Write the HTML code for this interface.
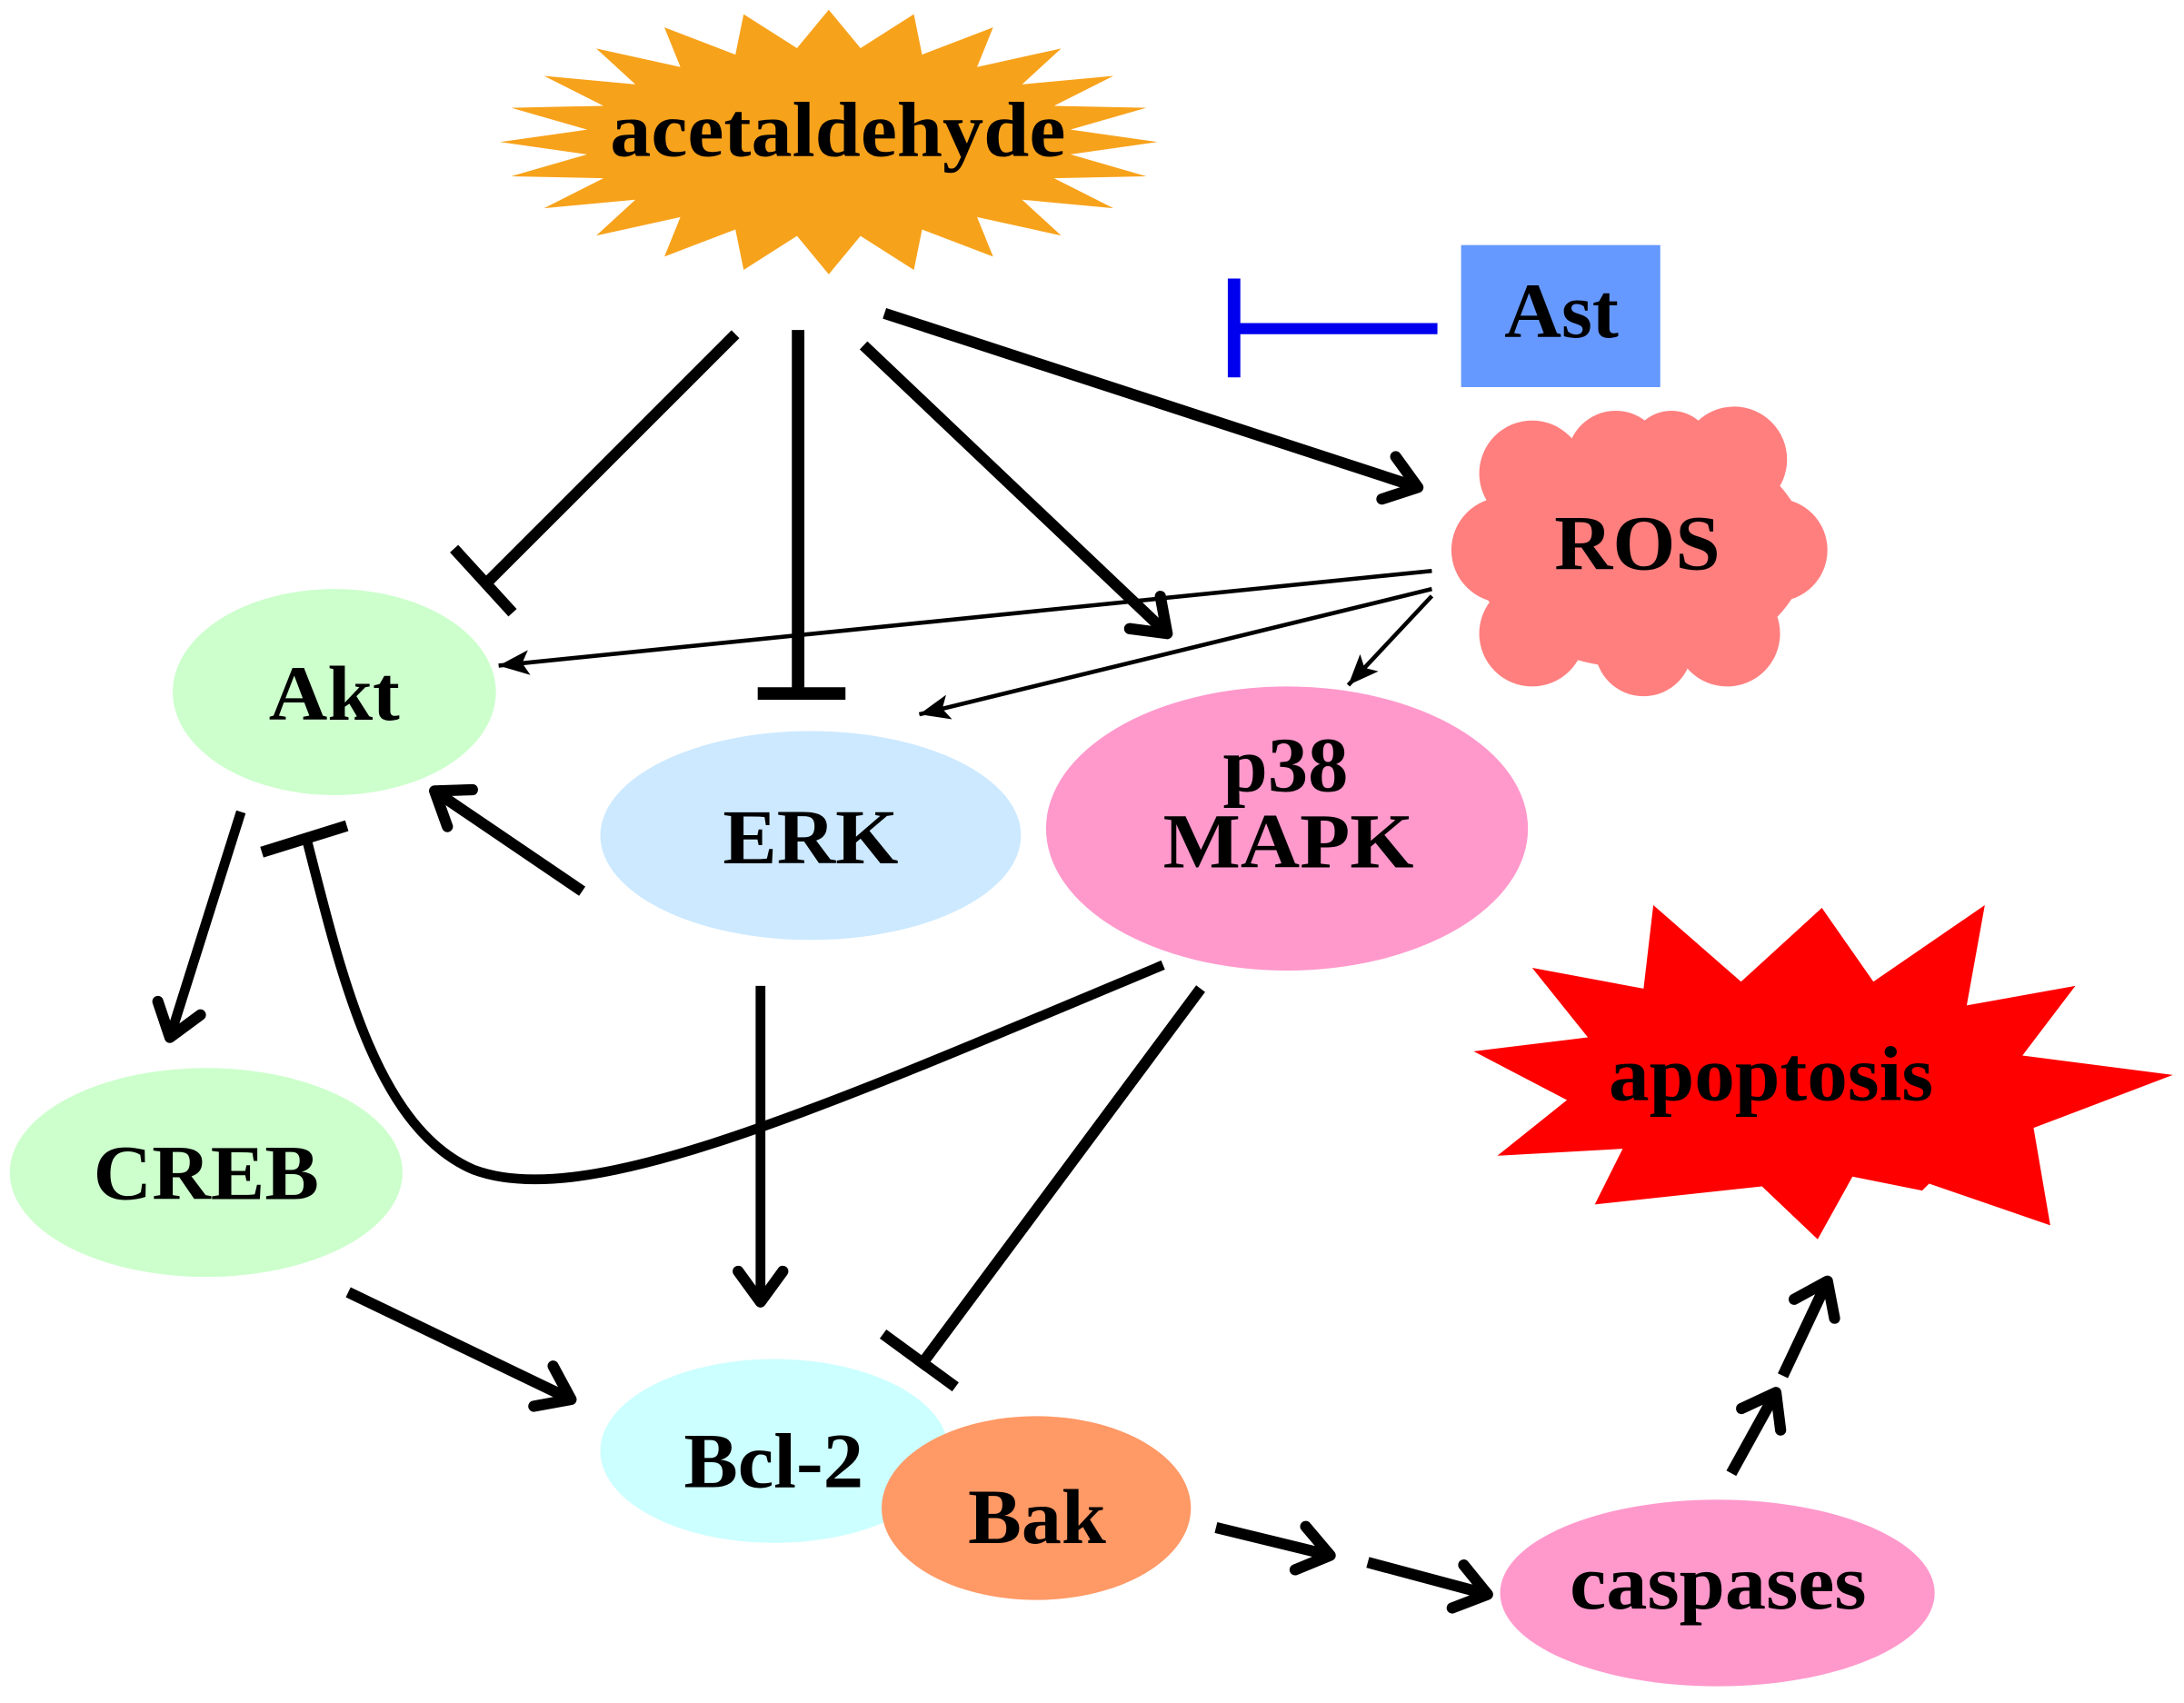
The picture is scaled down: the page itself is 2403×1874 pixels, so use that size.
<!DOCTYPE html>
<html><head><meta charset="utf-8"><style>html,body{margin:0;padding:0;background:#fff}svg{display:block}</style></head>
<body>
<svg width="2403" height="1874" viewBox="0 0 1568 1223" preserveAspectRatio="none" xmlns="http://www.w3.org/2000/svg">
<defs>
<marker id="ah" markerUnits="userSpaceOnUse" markerWidth="60" markerHeight="60" refX="40" refY="20" orient="auto" viewBox="0 0 60 40">
<path d="M18,4 L40,20 L18,36" fill="none" stroke="#000" stroke-width="8" stroke-linecap="round" stroke-linejoin="round"/>
</marker>
<marker id="ahs" markerUnits="userSpaceOnUse" markerWidth="30" markerHeight="30" refX="22" refY="10" orient="auto" viewBox="0 0 30 20">
<path d="M0,1 L22,10 L0,19 L5,10 Z" fill="#000"/>
</marker>
</defs>
<rect width="1568" height="1223" fill="#fff"/>
<!-- acetaldehyde star -->
<polygon id="star1" fill="#F7A21B" points=""/>
<script>
(function(){var p=[],n=24,cx=595,cy=102;for(var i=0;i<2*n;i++){var a=Math.PI*i/n-Math.PI/2;var o=i%2==0;var rx=o?236:175,ry=o?95:68;p.push((cx+rx*Math.cos(a)).toFixed(1)+","+(cy+ry*Math.sin(a)).toFixed(1));}document.getElementById("star1").setAttribute("points",p.join(" "));})();
</script>
<!-- apoptosis star -->
<polygon fill="#FF0000" points="1058,755 1140,745 1100,695 1180,710 1187,650 1250,705 1308,652 1345,705 1425,650 1412,722 1490,708 1452,758 1560,772 1460,810 1472,880 1385,850 1380,855 1330,845 1305,890 1265,852 1145,865 1165,825 1075,830 1125,790"/>
<!-- Ast -->
<rect x="1049" y="176" width="143" height="102" fill="#6699FF"/>
<line x1="1032" y1="236" x2="886" y2="236" stroke="#0000EE" stroke-width="8"/>
<line x1="886" y1="200" x2="886" y2="271" stroke="#0000EE" stroke-width="9"/>
<!-- ROS cloud -->
<g fill="#FF7F7F">
<ellipse cx="1177" cy="395" rx="120" ry="85"/>
<circle cx="1100" cy="340" r="38"/><circle cx="1160" cy="330" r="35"/><circle cx="1245" cy="330" r="38"/>
<circle cx="1275" cy="395" r="37"/><circle cx="1240" cy="455" r="38"/><circle cx="1180" cy="465" r="35"/>
<circle cx="1100" cy="455" r="38"/><circle cx="1080" cy="395" r="38"/><circle cx="1200" cy="325" r="30"/>
</g>
<!-- nodes -->
<ellipse cx="240" cy="497" rx="116" ry="74" fill="#CCFFCC"/>
<ellipse cx="582" cy="600" rx="151" ry="75" fill="#CCE9FF"/>
<ellipse cx="924" cy="595" rx="173" ry="102" fill="#FF99CC"/>
<ellipse cx="148" cy="842" rx="141" ry="75" fill="#CCFFCC"/>
<ellipse cx="556" cy="1042" rx="125" ry="66" fill="#CCFFFF"/>
<ellipse cx="744" cy="1083" rx="111" ry="66" fill="#FF9966"/>
<ellipse cx="1233" cy="1144" rx="156" ry="67" fill="#FF99CC"/>
<!-- connectors -->
<g stroke="#000" fill="none" stroke-linecap="butt">
<line x1="528" y1="240" x2="350" y2="418" stroke-width="8"/>
<line x1="326" y1="394" x2="368" y2="440" stroke-width="8"/>
<line x1="573" y1="237" x2="573" y2="497" stroke-width="9"/>
<line x1="544" y1="498" x2="607" y2="498" stroke-width="9"/>
<line x1="620" y1="248" x2="838" y2="455" stroke-width="8" marker-end="url(#ah)"/>
<line x1="635" y1="225" x2="1018" y2="350" stroke-width="8" marker-end="url(#ah)"/>
<line x1="1028" y1="410" x2="358" y2="478" stroke-width="3" marker-end="url(#ahs)"/>
<line x1="1028" y1="423" x2="660" y2="513" stroke-width="3" marker-end="url(#ahs)"/>
<line x1="1028" y1="428" x2="968" y2="492" stroke-width="3" marker-end="url(#ahs)"/>
<line x1="418" y1="640" x2="312" y2="568" stroke-width="8" marker-end="url(#ah)"/>
<line x1="173" y1="583" x2="122" y2="745" stroke-width="7" marker-end="url(#ah)"/>
<path d="M835,693 C580,800 420,870 340,840 C270,810 245,700 220,602" stroke-width="7"/>
<line x1="188" y1="612" x2="249" y2="593" stroke-width="8"/>
<line x1="546" y1="708" x2="546" y2="935" stroke-width="7" marker-end="url(#ah)"/>
<line x1="862" y1="710" x2="660" y2="982" stroke-width="8"/>
<line x1="634" y1="958" x2="686" y2="996" stroke-width="8"/>
<line x1="250" y1="928" x2="410" y2="1005" stroke-width="8" marker-end="url(#ah)"/>
<line x1="873" y1="1097" x2="955" y2="1117" stroke-width="8" marker-end="url(#ah)"/>
<line x1="982" y1="1122" x2="1068" y2="1145" stroke-width="8" marker-end="url(#ah)"/>
<line x1="1243" y1="1058" x2="1275" y2="1000" stroke-width="8" marker-end="url(#ah)"/>
<line x1="1280" y1="988" x2="1312" y2="920" stroke-width="8" marker-end="url(#ah)"/>
</g>
<!-- labels -->
<g font-family="'Liberation Serif', serif" font-weight="bold" font-size="56" fill="#000" text-anchor="start">
<text x="438" y="112" textLength="327" lengthAdjust="spacingAndGlyphs">acetaldehyde</text>
<text x="1080" y="242" textLength="82" lengthAdjust="spacingAndGlyphs">Ast</text>
<text x="1116" y="409" textLength="119" lengthAdjust="spacingAndGlyphs">ROS</text>
<text x="193" y="517" textLength="94" lengthAdjust="spacingAndGlyphs">Akt</text>
<text x="519" y="620" textLength="126" lengthAdjust="spacingAndGlyphs">ERK</text>
<text x="878" y="568" textLength="90" lengthAdjust="spacingAndGlyphs">p38</text>
<text x="835" y="623" textLength="180" lengthAdjust="spacingAndGlyphs">MAPK</text>
<text x="1155" y="790" textLength="233" lengthAdjust="spacingAndGlyphs">apoptosis</text>
<text x="67" y="861" textLength="162" lengthAdjust="spacingAndGlyphs">CREB</text>
<text x="491" y="1068" textLength="129" lengthAdjust="spacingAndGlyphs">Bcl-2</text>
<text x="695" y="1108" textLength="99" lengthAdjust="spacingAndGlyphs">Bak</text>
<text x="1127" y="1155" textLength="213" lengthAdjust="spacingAndGlyphs">caspases</text>
</g>
</svg>
</body></html>
